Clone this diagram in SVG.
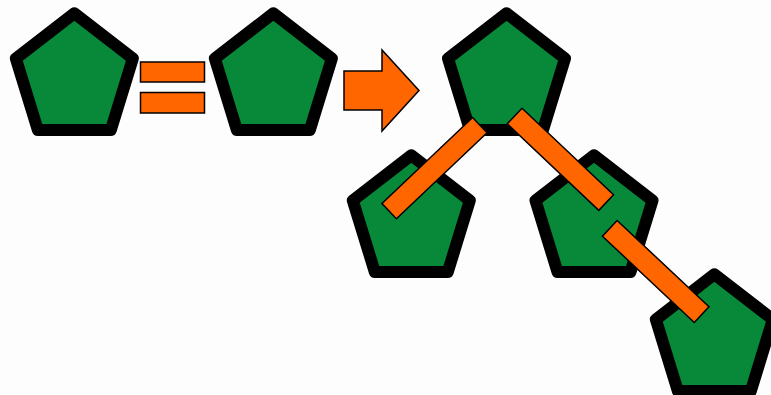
<svg xmlns="http://www.w3.org/2000/svg" width="771" height="395" viewBox="0 0 771 395">
  <style>
    .pent { fill: #078939; stroke: #000; stroke-width: 12; stroke-linejoin: round; }
    .bond { fill: #ff6600; stroke: #000; stroke-width: 1.5; }
  </style>
  <defs>
    <polygon id="pentagon" class="pent" points="0,13.3 58.5,58.4 36.5,130 -36.5,130 -58.5,58.4"/>
  </defs>
  <rect x="0" y="0" width="771" height="395" fill="#fdfdfd"/>
  <g id="pentagon1"><use href="#pentagon" transform="translate(74.35,0)"/></g>
  <g id="pentagon2"><use href="#pentagon" transform="translate(273.35,0)"/></g>
  <g id="pentagon3"><use href="#pentagon" transform="translate(506.5,0)"/></g>
  <g id="pentagon4"><use href="#pentagon" transform="translate(411.3,142)"/></g>
  <g id="pentagon5"><use href="#pentagon" transform="translate(594,142)"/></g>
  <g id="pentagon6"><use href="#pentagon" transform="translate(714.35,261)"/></g>
  <g id="connectors">
    <rect class="bond" x="140.5" y="62" width="64" height="20"/>
    <rect class="bond" x="140.5" y="92.5" width="64" height="20.5"/>
    <polygon class="bond" points="344,71 382,71 382,50 419,90.5 382,131 382,110 344,110"/>
    <rect class="bond" x="-62.5" y="-10.5" width="125" height="21" transform="translate(434.5,168.1) rotate(-43.5)"/>
    <rect class="bond" x="-63" y="-10.75" width="126" height="21.5" transform="translate(560.4,159.3) rotate(43.4)"/>
    <rect class="bond" x="-63" y="-10.75" width="126" height="21.5" transform="translate(655.7,271.5) rotate(43.2)"/>
  </g>
</svg>
